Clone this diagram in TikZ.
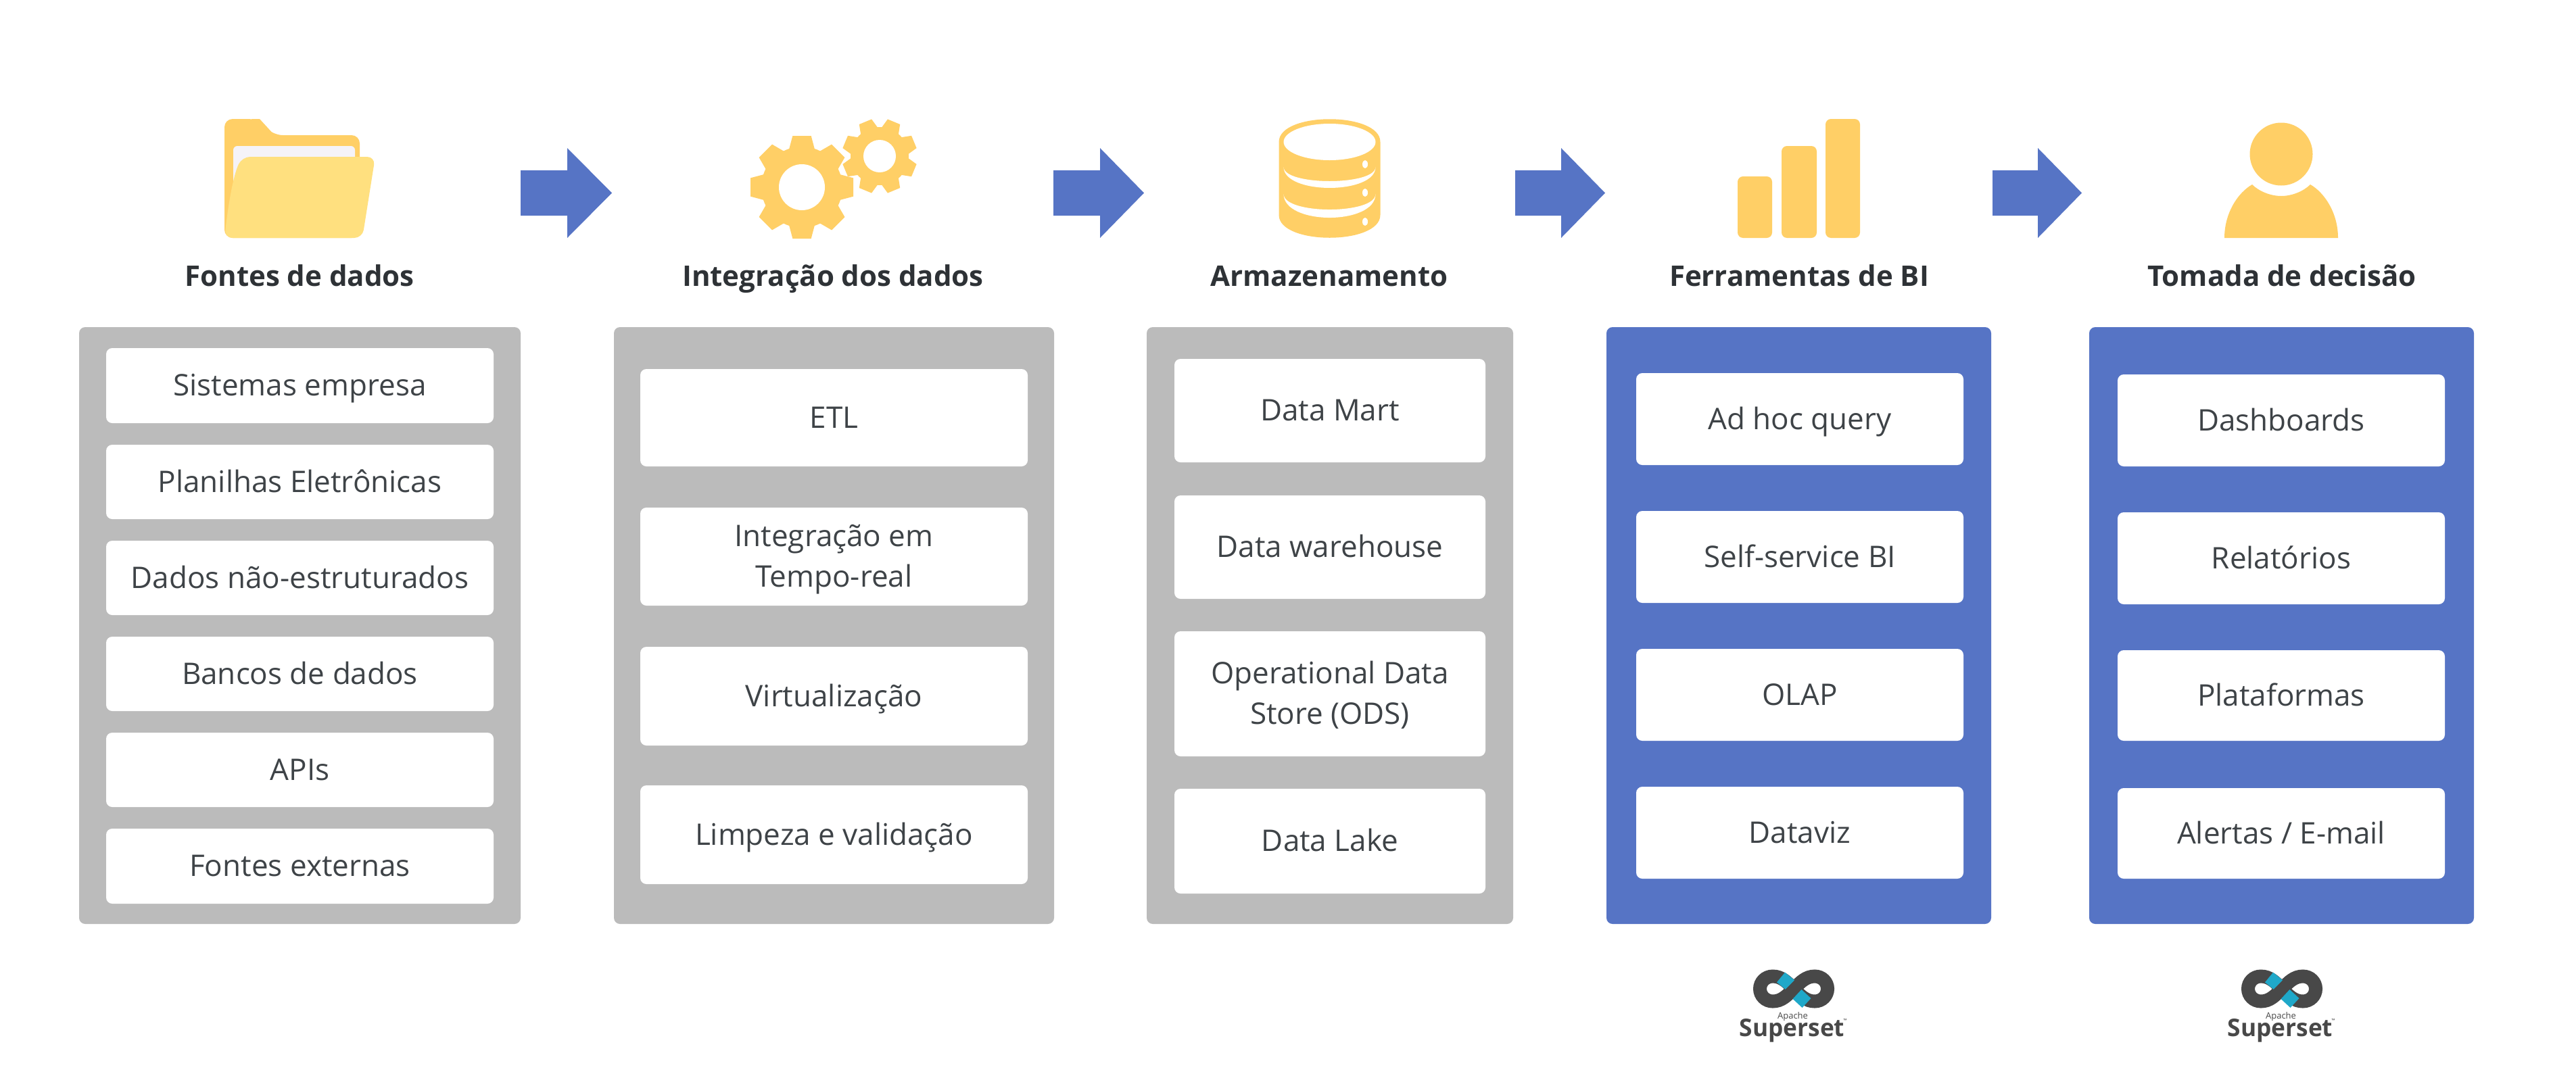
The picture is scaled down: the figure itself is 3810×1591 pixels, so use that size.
\documentclass[tikz,border=0pt]{standalone}
\usepackage{fontspec}
\setmainfont{Open Sans}
\definecolor{panelgray}{HTML}{BBBBBB}
\definecolor{panelblue}{HTML}{5674C5}
\definecolor{iconyellow}{HTML}{FFCF66}
\definecolor{folderfront}{HTML}{FFE07F}
\definecolor{paperwhite}{HTML}{F5F3F8}
\definecolor{bodytext}{HTML}{3E4347}
\definecolor{headtext}{HTML}{2E3236}
\definecolor{logodark}{HTML}{484848}
\definecolor{logoblue}{HTML}{1FA8C9}
\tikzset{
  x=1pt,y=-1pt,
  paneltone/.style={rounded corners=9pt,inner sep=0pt,outer sep=0pt},
  itembox/.style={fill=white,rounded corners=9pt,inner sep=0pt,outer sep=0pt,text=bodytext,align=center,
     font=\fontsize{44}{60}\selectfont},
  oneline/.style={text height=30pt,text depth=0pt},
  twolines/.style={text height=90pt,text depth=0pt},
  header/.style={anchor=base,inner sep=0pt,text=headtext,font=\fontsize{42}{48}\selectfont\bfseries},
  flowarrow/.style={fill=panelblue,draw=none},
  icon/.style={fill=iconyellow,draw=none},
  hole/.style={fill=white,draw=none},
  logotext/.style={anchor=base,inner sep=0pt,text=logodark},
  infstroke/.style={line width=20pt,draw=logodark,line cap=butt},
}
% name, x1, y1, x2, y2, style, text
\newcommand{\bx}[7]{%
  \pgfmathsetmacro{\bw}{#4-#2}\pgfmathsetmacro{\bh}{#5-#3}%
  \pgfmathsetmacro{\bcx}{(#2+#4)/2}\pgfmathsetmacro{\bcy}{(#3+#5)/2}%
  \node[#6,minimum width=\bw pt,minimum height=\bh pt] (#1) at (\bcx,\bcy) {#7};}
\newcommand{\flowarr}[4]{% name, x tail, x neck, x tip
  \path[flowarrow] (#2,252) -- (#3,252) -- (#3,219) -- (#4,285.5) -- (#3,352) -- (#3,319) -- (#2,319) -- cycle;}
\newcommand{\gear}[6]{% cx, cy, outer, body, hole, start angle
  \begin{scope}[shift={(#1,#2)}]
    \fill[iconyellow] (0,0) circle [radius=#4];
    \foreach \ga in {0,45,...,315} {
      \pgfmathsetmacro{\gb}{#3*0.25}
      \pgfmathsetmacro{\gc}{#3*0.18}
      \fill[iconyellow,rotate=\ga+#6] (#4-4,-\gb) -- (#3,-\gc) -- (#3,\gc) -- (#4-4,\gb) -- cycle;
    }
    \fill[hole] (0,0) circle [radius=#5];
  \end{scope}}
\newcommand{\supersetlogo}[2]{% name prefix, centre x
  \begin{scope}[shift={(#2,1463)}]
    \draw[infstroke] (0,0) .. controls (-10,-10) and (-18,-18.5) .. (-31,-18.5)
        .. controls (-42,-18.5) and (-50,-10) .. (-50,0)
        .. controls (-50,10) and (-42,18.5) .. (-31,18.5)
        .. controls (-18,18.5) and (-10,10) .. (0,0);
    \draw[infstroke] (0,0) .. controls (10,10) and (18,18.5) .. (31,18.5)
        .. controls (42,18.5) and (50,10) .. (50,0)
        .. controls (50,-10) and (42,-18.5) .. (31,-18.5)
        .. controls (18,-18.5) and (10,-10) .. (0,0);
    \draw[line width=19pt,draw=logoblue] (-19,-17) -- (-5,-5.5);
    \draw[line width=19pt,draw=logoblue] (5,8) -- (19,21);
    \draw[line width=16pt,draw=logodark] (-12,12) -- (12,-12);
    \node[logotext,font=\fontsize{13}{13}\selectfont] (#1apache) at (-1.5,44) {Apache};
    \node[logotext,font=\fontsize{36}{36}\selectfont\bfseries\addfontfeature{FakeStretch=0.98}] (#1name) at (-2.5,70) {Superset};
    \node[logotext,font=\fontsize{7}{7}\selectfont] (#1tm) at (76,49) {™};
  \end{scope}}
\begin{document}
\begin{tikzpicture}
\useasboundingbox (0,0) rectangle (3810,1591);
\fill[white] (0,0) rectangle (3810,1591);

% panels
\bx{p1}{117}{484}{770}{1367}{paneltone,fill=panelgray}{}
\bx{p2}{908}{484}{1559}{1367}{paneltone,fill=panelgray}{}
\bx{p3}{1696}{484}{2238}{1367}{paneltone,fill=panelgray}{}
\bx{p4}{2376}{484}{2945}{1367}{paneltone,fill=panelblue}{}
\bx{p5}{3090}{484}{3659}{1367}{paneltone,fill=panelblue}{}

% column 1
\bx{a1}{157}{515}{730}{626}{itembox,oneline}{Sistemas empresa}
\bx{a2}{157}{658}{730}{768}{itembox,oneline}{Planilhas Eletrônicas}
\bx{a3}{157}{800}{730}{910}{itembox,oneline}{Dados não-estruturados}
\bx{a4}{157}{942}{730}{1052}{itembox,oneline}{Bancos de dados}
\bx{a5}{157}{1084}{730}{1194}{itembox,oneline}{APIs}
\bx{a6}{157}{1226}{730}{1337}{itembox,oneline}{Fontes externas}
% column 2
\bx{b1}{947}{546}{1520}{690}{itembox,oneline}{ETL}
\bx{b2}{947}{751}{1520}{896}{itembox,twolines}{Integração em\\Tempo-real}
\bx{b3}{947}{957}{1520}{1103}{itembox,oneline}{Virtualização}
\bx{b4}{947}{1162}{1520}{1308}{itembox,oneline}{Limpeza e validação}
% column 3
\bx{c1}{1737}{531}{2197}{684}{itembox,oneline}{Data Mart}
\bx{c2}{1737}{733}{2197}{886}{itembox,oneline}{Data warehouse}
\bx{c3}{1737}{934}{2197}{1119}{itembox,twolines}{Operational Data\\Store (ODS)}
\bx{c4}{1737}{1167}{2197}{1322}{itembox,oneline}{Data Lake}
% column 4
\bx{d1}{2420}{552}{2904}{688}{itembox,oneline}{Ad hoc query}
\bx{d2}{2420}{756}{2904}{892}{itembox,oneline}{Self-service BI}
\bx{d3}{2420}{960}{2904}{1096}{itembox,oneline}{OLAP}
\bx{d4}{2420}{1164}{2904}{1300}{itembox,oneline}{Dataviz}
% column 5
\bx{e1}{3132}{554}{3616}{690}{itembox,oneline}{Dashboards}
\bx{e2}{3132}{758}{3616}{894}{itembox,oneline}{Relatórios}
\bx{e3}{3132}{962}{3616}{1096}{itembox,oneline}{Plataformas}
\bx{e4}{3132}{1166}{3616}{1300}{itembox,oneline}{Alertas / E-mail}

% headers
\node[header] (h1) at (443,423) {Fontes de dados};
\node[header] (h2) at (1232,423) {Integração dos dados};
\node[header] (h3) at (1966,423) {Armazenamento};
\node[header] (h4) at (2661,423) {Ferramentas de BI};
\node[header] (h5) at (3375,423) {Tomada de decisão};

% arrows
\flowarr{f1}{770}{839}{905}
\flowarr{f2}{1558}{1627}{1692}
\flowarr{f3}{2241}{2309}{2374}
\flowarr{f4}{2947}{3014}{3079}

% folder
\path[icon,rounded corners=12pt] (332,352) -- (332,176) -- (379,176) -- (406,200) -- (532,200) -- (532,352) -- cycle;
\path[fill=iconyellow] (372,176) -- (384,176) -- (406,200) -- (380,200) -- cycle;
\path[fill=paperwhite,rounded corners=6pt] (345,300) -- (345,216) -- (525,216) -- (525,300) -- cycle;
\path[fill=folderfront,rounded corners=12pt] (332,352) .. controls (338,300) and (345,260) .. (358,232) -- (555,232) -- (536,352) -- cycle;

% gears
\gear{1186}{277}{76}{60}{34}{0}
\gear{1301}{231}{55}{43}{24}{22.5}

% database
\path[icon] (1891.5,210) .. controls (1891.5,165) and (2041.5,165) .. (2041.5,210)
   -- (2041.5,318) .. controls (2041.5,363) and (1891.5,363) .. (1891.5,318) -- cycle;
\path[hole] (1966.5,210) ellipse [x radius=68,y radius=27];
\path[hole] (1898.5,247) .. controls (1898.5,275) and (2034.5,275) .. (2034.5,247)
   .. controls (2034.5,288.3) and (1898.5,288.3) .. cycle;
\path[hole] (1898.5,287) .. controls (1898.5,317.7) and (2034.5,317.7) .. (2034.5,287)
   .. controls (2034.5,333.7) and (1898.5,333.7) .. cycle;
\foreach \dy in {243,285,328} \path[hole] (2019,\dy) ellipse [x radius=4,y radius=6];

% bars
\path[icon,rounded corners=8pt] (2570,352) -- (2570,261) -- (2621,261) -- (2621,352) -- cycle;
\path[icon,rounded corners=8pt] (2635,352) -- (2635,216) -- (2687,216) -- (2687,352) -- cycle;
\path[icon,rounded corners=8pt] (2700,352) -- (2700,176) -- (2751,176) -- (2751,352) -- cycle;

% person
\path[icon] (3374,228) circle [radius=46.5];
\path[icon] (3290,352) .. controls (3290,315) and (3310,285) .. (3331,273)
   .. controls (3341,283) and (3358,290) .. (3374,290)
   .. controls (3390,290) and (3407,283) .. (3417,273)
   .. controls (3438,285) and (3458,315) .. (3458,352) -- cycle;

% logos
\supersetlogo{l}{2653}
\supersetlogo{r}{3375}
\end{tikzpicture}
\end{document}
